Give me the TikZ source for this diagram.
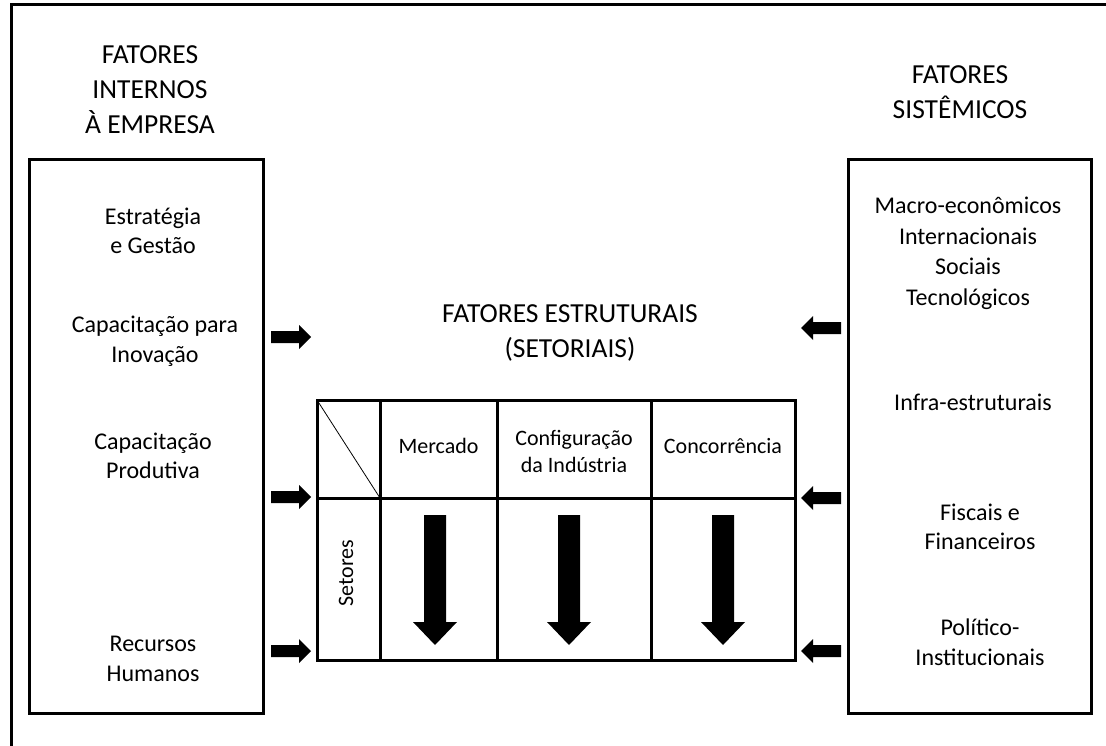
\documentclass[tikz,border=0pt]{standalone}
\usepackage{fontspec}
\setmainfont{Carlito}
\begin{document}
\begin{tikzpicture}[x=1pt,y=-1pt,
  frame/.style={line width=3pt},
  box/.style={draw,line width=3pt},
  title/.style={align=center,inner sep=0pt,font=\fontsize{27.5}{35}\selectfont},
  body/.style={align=center,inner sep=0pt,font=\fontsize{24}{29.5}\selectfont},
  head/.style={align=center,inner sep=0pt,font=\fontsize{22}{27}\selectfont},
  rarrow/.pic={\fill (-20,-6) -- (8,-6) -- (8,-12) -- (20,0) -- (8,12) -- (8,6) -- (-20,6) -- cycle;},
  larrow/.pic={\fill (20,-6) -- (-8,-6) -- (-8,-12) -- (-20,0) -- (-8,12) -- (-8,6) -- (20,6) -- cycle;},
  darrow/.pic={\fill (-11,0) -- (11,0) -- (11,107) -- (22,107) -- (0,130) -- (-22,107) -- (-11,107) -- cycle;}
]
\useasboundingbox (0,0) rectangle (1106,746);
\fill[white] (0,0) rectangle (1106,746);

% outer frame (top and left edges)
\coordinate (fbl) at (11,748);
\coordinate (ftl) at (11,5);
\coordinate (ftr) at (1108,5);
\draw[frame] (fbl) -- (ftl) -- (ftr);

% side boxes
\node[box,minimum width=234pt,minimum height=553pt,inner sep=0pt] (internos) at (146,436.5) {};
\node[box,minimum width=243pt,minimum height=553pt,inner sep=0pt] (sistemicos) at (969.5,436.5) {};

% titles
\node[title] (tint) at (150,90) {FATORES\\INTERNOS\\À EMPRESA};
\node[title] (tsis) at (960,92.5) {FATORES\\SISTÊMICOS};
\node[title] (test) at (570,333) {FATORES ESTRUTURAIS\\(SETORIAIS)};

% internal factors
\node[body] (estr) at (153,231) {Estratégia\\e Gestão};
\node[body] (inov) at (155,341.5) {Capacitação para\\Inovação};
\node[body] (prod) at (153,456) {Capacitação\\Produtiva};
\node[body] (rh) at (153,659) {Recursos\\Humanos};

% systemic factors
\node[body,font=\fontsize{24}{30.5}\selectfont] (macro) at (968,253.5) {Macro-econômicos\\Internacionais\\Sociais\\Tecnológicos};
\node[body] (infra) at (973,402) {Infra-estruturais};
\node[body] (fisc) at (980,527) {Fiscais e\\Financeiros};
\node[body] (pol) at (980,642.5) {Político-\\Institucionais};

% sector table
\coordinate (t00) at (317,400);
\coordinate (t11) at (795,660);
\draw[line width=3pt] (t00) rectangle (t11);
\draw[line width=3pt] (380,400) -- (380,660);
\draw[line width=3pt] (497,400) -- (497,660);
\draw[line width=3pt] (651,400) -- (651,660);
\draw[line width=3pt] (317,498) -- (795,498);
\draw[line width=0.8pt] (t00) -- (380,498);

\node[head] (merc) at (438.5,446) {Mercado};
\node[head] (conf) at (574,451) {Configuração\\da Indústria};
\node[head] (conc) at (723,446) {Concorrência};
\node[head,rotate=90] (set) at (346,573) {Setores};

% downward arrows in each column
\pic at (435,515) {darrow};
\pic at (569,515) {darrow};
\pic at (723,515) {darrow};

% block arrows towards the table
\pic at (291,337) {rarrow};
\pic at (291,497) {rarrow};
\pic at (291,651) {rarrow};
\pic at (821,328) {larrow};
\pic at (821,498) {larrow};
\pic at (821,651) {larrow};
\end{tikzpicture}
\end{document}
